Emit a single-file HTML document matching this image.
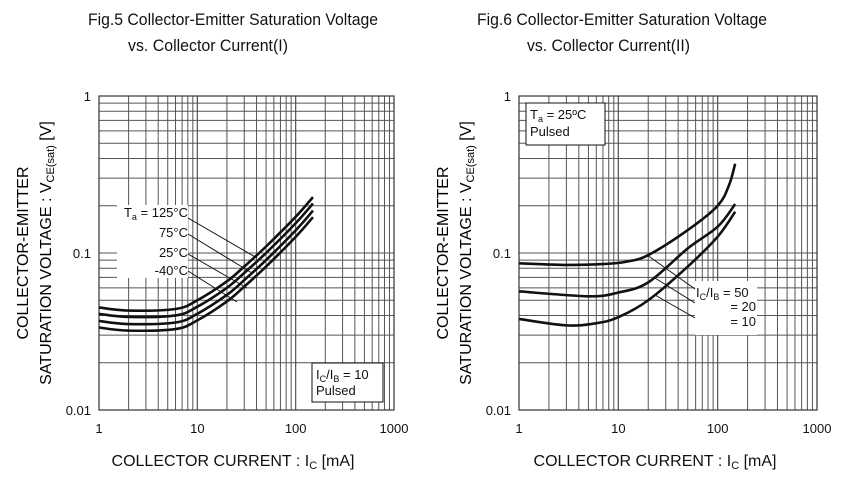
<!DOCTYPE html>
<html><head><meta charset="utf-8"><style>
body{margin:0;background:#fff;}
svg{display:block;font-family:"Liberation Sans",Arial,sans-serif;}
</style></head><body>
<svg id="s" width="852" height="489" viewBox="0 0 852 489" xmlns="http://www.w3.org/2000/svg">
<text x="88" y="25" font-size="17" textLength="290" lengthAdjust="spacingAndGlyphs" fill="#111">Fig.5 Collector-Emitter Saturation Voltage</text>
<text x="128" y="51" font-size="17" textLength="160" lengthAdjust="spacingAndGlyphs" fill="#111">vs. Collector Current(I)</text>
<text x="477" y="25" font-size="17" textLength="290" lengthAdjust="spacingAndGlyphs" fill="#111">Fig.6 Collector-Emitter Saturation Voltage</text>
<text x="527" y="51" font-size="17" textLength="163" lengthAdjust="spacingAndGlyphs" fill="#111">vs. Collector Current(II)</text>
</svg>
<script>
var s=document.getElementById('s'),NS='http://www.w3.org/2000/svg';
function el(t,a,txt){var e=document.createElementNS(NS,t);for(var k in a)e.setAttribute(k,a[k]);if(txt!==undefined)e.textContent=txt;s.appendChild(e);return e;}
function lg(v){return Math.log(v)/Math.LN10;}
function plot(x0,x1,y0,y1,curves){
 var dx=(x1-x0)/3,dy=(y1-y0)/2;
 function X(v){return x0+lg(v)*dx;} function Y(v){return y1-(lg(v)+2)*dy;}
 for(var d=0;d<3;d++)for(var m=1;m<=10;m++){var xx=x0+(d+lg(m))*dx;el('line',{x1:xx,x2:xx,y1:y0,y2:y1,stroke:'#555','stroke-width':1});}
 for(var d=0;d<2;d++)for(var m=1;m<=10;m++){var yy=y1-(d+lg(m))*dy;el('line',{x1:x0,x2:x1,y1:yy,y2:yy,stroke:'#555','stroke-width':1});}
 el('rect',{x:x0,y:y0,width:x1-x0,height:y1-y0,fill:'none',stroke:'#333','stroke-width':1.2});
 var lab=[['1',y0],['0.1',(y0+y1)/2],['0.01',y1]];
 lab.forEach(function(l){el('text',{x:x0-8,y:l[1]+5,'font-size':13,'text-anchor':'end',fill:'#111'},l[0]);});
 ['1','10','100','1000'].forEach(function(t,i){el('text',{x:x0+i*dx,y:y1+23,'font-size':13,'text-anchor':'middle',fill:'#111'},t);});
 curves.forEach(function(c){
  var p=c.map(function(q){return [X(q[0]),Y(q[1])];});
  var d='M'+p[0][0]+','+p[0][1];
  for(var i=0;i<p.length-1;i++){var a=p[i-1]||p[i],b=p[i],c2=p[i+1],e=p[i+2]||c2;
   d+=' C'+(b[0]+(c2[0]-a[0])/6)+','+(b[1]+(c2[1]-a[1])/6)+' '+(c2[0]-(e[0]-b[0])/6)+','+(c2[1]-(e[1]-b[1])/6)+' '+c2[0]+','+c2[1];}
  el('path',{d:d,fill:'none',stroke:'#111','stroke-width':2.6});
 });
}
function ytitle(cx,cy){
 var g=el('g',{transform:'translate('+cx+','+cy+') rotate(-90)'});
 var t1=document.createElementNS(NS,'text');t1.setAttribute('x',0);t1.setAttribute('y',-8);t1.setAttribute('font-size',16);t1.setAttribute('text-anchor','middle');t1.textContent='COLLECTOR-EMITTER';g.appendChild(t1);
 var t2=document.createElementNS(NS,'text');t2.setAttribute('x',0);t2.setAttribute('y',15);t2.setAttribute('font-size',16);t2.setAttribute('text-anchor','middle');
 t2.innerHTML='SATURATION VOLTAGE : V<tspan font-size="11" dy="3">CE(sat)</tspan><tspan dy="-3"> [V]</tspan>';g.appendChild(t2);
}
var base=[[1,.045],[2,.043],[6,.044],[10,.050],[20,.066],[30,.082],[50,.11],[100,.17],[150,.227]];
function sc(f){return base.map(function(q){return [q[0],q[1]*f];});}
plot(99,394,96,410,[base,sc(.91),sc(.82),sc(.745)]);
plot(519,817,96,410,[
 [[1,.086],[3,.084],[7,.085],[12,.088],[20,.097],[50,.14],[100,.2],[130,.27],[150,.37]],
 [[1,.057],[5,.053],[10,.056],[20,.065],[50,.107],[100,.147],[150,.205]],
 [[1,.038],[3,.0346],[6,.0357],[10,.039],[20,.050],[50,.082],[100,.127],[150,.183]]]);
ytitle(36,253);ytitle(456,253);
el('rect',{x:117,y:205,width:71,height:73,fill:'#fff'});
[[212,'Ta'],[232,'75°C'],[252,'25°C'],[270,'-40°C']].forEach(function(l,i){
 var t=el('text',{x:188,y:l[0]+5,'font-size':13,'text-anchor':'end',fill:'#111'});
 if(i==0)t.innerHTML='T<tspan font-size="9" dy="3">a</tspan><tspan dy="-3"> = 125°C</tspan>';else t.textContent=l[1];});
[[188,218,257,258],[188,234,252,273],[188,254,247,288],[188,271,237,302]].forEach(function(a){el('line',{x1:a[0],y1:a[1],x2:a[2],y2:a[3],stroke:'#111','stroke-width':1});});
el('rect',{x:312,y:363,width:71,height:39,fill:'#fff',stroke:'#111','stroke-width':1});
var t=el('text',{x:316,y:379,'font-size':13,fill:'#111'});t.innerHTML='I<tspan font-size="9" dy="3">C</tspan><tspan dy="-3">/I</tspan><tspan font-size="9" dy="3">B</tspan><tspan dy="-3"> = 10</tspan>';
el('text',{x:316,y:395,'font-size':13,fill:'#111'},'Pulsed');
el('rect',{x:526,y:103,width:79,height:42,fill:'#fff',stroke:'#111','stroke-width':1});
t=el('text',{x:530,y:119,'font-size':13,fill:'#111'});t.innerHTML='T<tspan font-size="9" dy="3">a</tspan><tspan dy="-3"> = 25ºC</tspan>';
el('text',{x:530,y:136,'font-size':13,fill:'#111'},'Pulsed');
el('rect',{x:695,y:281,width:62,height:54,fill:'#fff'});
[[647,255,695,289],[655,278,695,303],[655,295,695,318]].forEach(function(a){el('line',{x1:a[0],y1:a[1],x2:a[2],y2:a[3],stroke:'#111','stroke-width':1});});
t=el('text',{x:696,y:297,'font-size':13,fill:'#111'});t.innerHTML='I<tspan font-size="9" dy="3">C</tspan><tspan dy="-3">/I</tspan><tspan font-size="9" dy="3">B</tspan><tspan dy="-3"> =  50</tspan>';
el('text',{x:756,y:311,'font-size':13,'text-anchor':'end',fill:'#111'},'= 20');
el('text',{x:756,y:326,'font-size':13,'text-anchor':'end',fill:'#111'},'= 10');
[[233],[655]].forEach(function(c){var t=el('text',{x:c[0],y:466,'font-size':16,'text-anchor':'middle',fill:'#111'});t.innerHTML='COLLECTOR CURRENT : I<tspan font-size="11" dy="3">C</tspan><tspan dy="-3"> [mA]</tspan>';});
</script>
</body></html>
